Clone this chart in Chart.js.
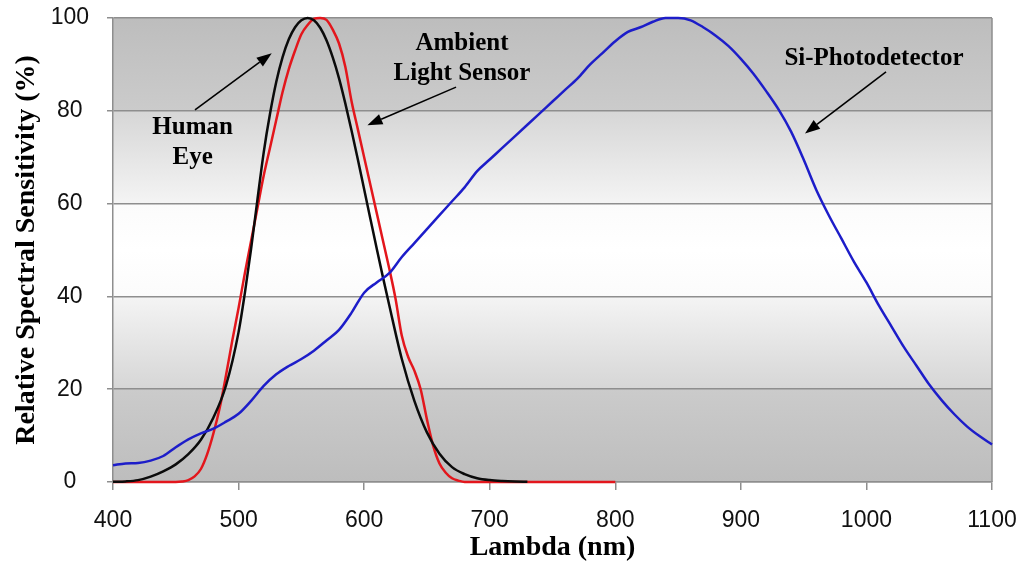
<!DOCTYPE html>
<html>
<head>
<meta charset="utf-8">
<script src="https://cdn.jsdelivr.net/npm/chart.js@4.4.1/dist/chart.umd.min.js"></script>
<style>
  html, body { margin: 0; padding: 0; background: #ffffff; }
  #wrap { width: 1025px; height: 562px; }
</style>
</head>
<body>
<div id="wrap"><canvas id="chart" width="1025" height="562"></canvas></div>
<script>
// Wavelength grid (nm) and relative sensitivity (%) for each response curve
const eyeNm  = [400,410,420,430,440,450,460,470,480,490,500,505,510,515,520,525,530,535,540,545,550,555,560,565,570,575,580,585,590,595,600,605,610,615,620,630,640,650,660,670,680,690,700,710,720,730];
const eyeVal = [0.04,0.12,0.4,1.16,2.3,3.8,6.0,9.1,13.9,20.8,32.3,40.7,50.3,60.8,71.0,79.3,86.2,91.5,95.4,98.0,99.5,100,99.5,97.9,95.2,91.5,87.0,81.6,75.7,69.5,63.1,56.7,50.3,44.1,38.1,26.5,17.5,10.7,6.1,3.2,1.7,0.82,0.41,0.21,0.1,0.05];

const alsNm  = [400,420,440,450,455,460,465,470,475,480,485,490,495,500,505,510,515,520,525,530,535,540,545,550,555,560,565,570,575,580,585,590,595,600,605,610,615,620,625,630,635,640,645,650,655,660,665,670,675,680,700,750,800];
const alsVal = [0,0,0,0,0.1,0.4,1.2,2.8,6,10.5,16,23,30.5,37.5,45,52,59,66,72,78,84,89,93,96.5,98.5,99.8,100,99.6,97.5,94.5,89.5,82,76,70,64,58,52,46,39.5,31.5,27,24,20,13.5,7.8,4,2,0.8,0.3,0,0,0,0];

const siNm  = [400,410,420,430,440,450,460,470,480,490,500,510,520,530,540,550,560,570,580,590,600,610,620,630,640,650,660,670,680,690,700,710,720,730,740,750,760,770,780,790,800,810,820,830,840,850,860,870,880,890,900,910,920,930,940,950,960,970,980,990,1000,1010,1020,1030,1040,1050,1060,1070,1080,1090,1100];
const siVal = [3.6,4.0,4.1,4.6,5.6,7.5,9.2,10.5,11.5,13,14.7,17.5,20.7,23.2,25,26.5,28.3,30.5,32.8,36.5,40.8,43,45,48.5,51.5,54.5,57.5,60.5,63.5,67,69.5,72,74.5,77,79.5,82,84.5,87,90,92.5,95,97,98,99.2,100,100,99.5,98,96.2,94,91.2,88,84.3,80.3,75.5,69.5,63,57.5,52.5,47.5,43,38,33.5,29,25,21,17.6,14.6,12,9.9,8.1];

const xTickValues = [400,500,600,700,800,900,1000,1100];
const yTickValues = [0,20,40,60,80,100];

// Callout texts (anchored in data units: wavelength, sensitivity of first baseline)
const calloutText = [
  { lines: ['Human', 'Eye'], nm: 463.4, val: 74.9 },
  { lines: ['Ambient', 'Light Sensor'], nm: 677.9, val: 93.0 },
  { lines: ['Si-Photodetector'], nm: 1006, val: 89.9 }
];
// Callout arrows: tail -> head, in data units
const calloutArrows = [
  { from: [465.3, 80.2], to: [526.4, 92.4] },
  { from: [673.2, 85.1], to: [602.6, 76.9] },
  { from: [1015.6, 88.4], to: [951.1, 75.1] }
];

const toPoints = (xs, ys) => xs.map((x, i) => ({ x: x, y: ys[i] }));

const GRID = '#8e8e8e';

// Keep the plot frame fixed: no extra room reserved for overhanging tick labels
const fixPadding = (s) => {
  s.paddingLeft = 0; s.paddingRight = 0; s.paddingTop = 0; s.paddingBottom = 0;
};

const plotBackground = {
  id: 'plotBackground',
  beforeDraw(chart) {
    const { ctx, chartArea: a } = chart;
    ctx.save();
    ctx.fillStyle = '#ffffff';
    ctx.fillRect(0, 0, chart.width, chart.height);
    const g = ctx.createLinearGradient(0, a.top, 0, a.bottom);
    g.addColorStop(0.0, '#bdbdbd');
    g.addColorStop(0.2, '#cbcbcb');
    g.addColorStop(0.2, '#d6d6d6');
    g.addColorStop(0.4, '#f4f4f4');
    g.addColorStop(0.4, '#fbfbfb');
    g.addColorStop(0.5, '#ffffff');
    g.addColorStop(0.6, '#fbfbfb');
    g.addColorStop(0.6, '#f4f4f4');
    g.addColorStop(0.8, '#d6d6d6');
    g.addColorStop(0.8, '#cbcbcb');
    g.addColorStop(1.0, '#bdbdbd');
    ctx.fillStyle = g;
    ctx.fillRect(a.left, a.top, a.right - a.left, a.bottom - a.top);
    ctx.restore();
  },
  beforeDatasetsDraw(chart) {
    const { ctx, chartArea: a } = chart;
    ctx.save();
    ctx.strokeStyle = GRID;
    ctx.lineWidth = 1.5;
    ctx.beginPath();
    ctx.moveTo(a.right, a.top);
    ctx.lineTo(a.right, a.bottom);
    ctx.stroke();
    ctx.restore();
  }
};

const callouts = {
  id: 'callouts',
  afterDatasetsDraw(chart) {
    const { ctx, scales: { x, y } } = chart;
    ctx.save();
    ctx.fillStyle = '#000';
    ctx.font = 'bold 25px "Liberation Serif", "Times New Roman", serif';
    ctx.textAlign = 'center';
    ctx.textBaseline = 'alphabetic';
    calloutText.forEach(c => {
      const px = x.getPixelForValue(c.nm);
      const py = y.getPixelForValue(c.val);
      c.lines.forEach((t, i) => ctx.fillText(t, px, py + i * 29.5));
    });
    ctx.strokeStyle = '#000';
    ctx.lineWidth = 1.6;
    calloutArrows.forEach(a => {
      const x0 = x.getPixelForValue(a.from[0]), y0 = y.getPixelForValue(a.from[1]);
      const x1 = x.getPixelForValue(a.to[0]),   y1 = y.getPixelForValue(a.to[1]);
      const ang = Math.atan2(y1 - y0, x1 - x0);
      const len = 15, half = 5.5;
      const bx = x1 - len * Math.cos(ang), by = y1 - len * Math.sin(ang);
      ctx.beginPath();
      ctx.moveTo(x0, y0);
      ctx.lineTo(bx, by);
      ctx.stroke();
      ctx.beginPath();
      ctx.moveTo(x1, y1);
      ctx.lineTo(bx + half * Math.sin(ang), by - half * Math.cos(ang));
      ctx.lineTo(bx - half * Math.sin(ang), by + half * Math.cos(ang));
      ctx.closePath();
      ctx.fill();
    });
    ctx.restore();
  }
};

const lineStyle = (color) => ({
  borderColor: color,
  backgroundColor: color,
  borderWidth: 2.5,
  pointRadius: 0,
  fill: false,
  cubicInterpolationMode: 'monotone',
  clip: 4
});

new Chart(document.getElementById('chart'), {
  type: 'line',
  data: {
    datasets: [
      Object.assign({ label: 'Si-Photodetector', data: toPoints(siNm, siVal) }, lineStyle('#1d1dc9')),
      Object.assign({ label: 'Human Eye', data: toPoints(eyeNm, eyeVal) }, lineStyle('#0b0b0b')),
      Object.assign({ label: 'Ambient Light Sensor', data: toPoints(alsNm, alsVal) }, lineStyle('#e3161c'))
    ]
  },
  options: {
    responsive: false,
    animation: false,
    events: [],
    layout: { padding: { left: 0, top: 18, right: 33, bottom: 0 } },
    plugins: { legend: { display: false }, tooltip: { enabled: false } },
    scales: {
      x: {
        type: 'linear',
        min: 400, max: 1100,
        afterBuildTicks: s => { s.ticks = xTickValues.map(v => ({ value: v })); },
        afterFit: s => { s.height = 80; fixPadding(s); },
        border: { display: true, color: GRID, width: 1.5 },
        grid: { drawOnChartArea: false, drawTicks: true, tickLength: 8, color: GRID, lineWidth: 1.5 },
        ticks: {
          color: '#111',
          padding: 17,
          maxRotation: 0,
          callback: v => String(v),
          font: { family: '"Liberation Sans", Arial, sans-serif', size: 23 }
        },
        title: {
          display: true,
          text: 'Lambda (nm)',
          color: '#000',
          padding: 0,
          font: { family: '"Liberation Serif", "Times New Roman", serif', size: 28, weight: 'bold', lineHeight: 1 }
        }
      },
      y: {
        min: 0, max: 100,
        afterBuildTicks: s => { s.ticks = yTickValues.map(v => ({ value: v })); },
        afterFit: s => { s.width = 113; fixPadding(s); },
        border: { display: true, color: GRID, width: 1.5 },
        grid: { drawOnChartArea: true, drawTicks: true, tickLength: 6, color: GRID, lineWidth: 1.5 },
        ticks: {
          color: '#111',
          padding: 18,
          crossAlign: 'center',
          callback: v => String(v),
          font: { family: '"Liberation Sans", Arial, sans-serif', size: 23 }
        },
        title: {
          display: true,
          text: 'Relative Spectral Sensitivity (%)',
          color: '#000',
          padding: { top: 13, bottom: 0 },
          font: { family: '"Liberation Serif", "Times New Roman", serif', size: 28, weight: 'bold', lineHeight: 1 }
        }
      }
    }
  },
  plugins: [plotBackground, callouts]
});
</script>
</body>
</html>
